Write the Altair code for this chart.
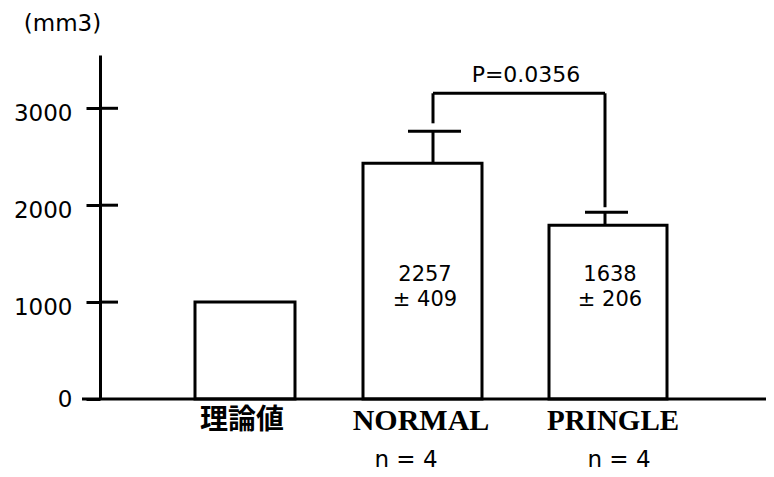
import altair as alt
import pandas as pd

# ---- data ----
categories = ["理論値", "NORMAL", "PRINGLE"]
bar_values = [1000, 2433, 1794]          # bar heights (mm3) as drawn
err_upper = [None, 2763, 1928]           # top of upper error bar
mean_text = ["", "2257", "1638"]
sd_text = ["", "± 409", "± 206"]
n_text = ["", "n = 4", "n = 4"]
y_ticks = [0, 1000, 2000, 3000]
y_unit = "(mm3)"
p_label = "P=0.0356"
bracket_pair = ["NORMAL", "PRINGLE"]
bracket_top = 3155
bracket_bottoms = [2845, 1979]

# ---- styles / layout ----
W, H = 666, 344
Y_MAX = 3550
LW = 3
bar_width = {"理論値": 100, "NORMAL": 119, "PRINGLE": 118}
bar_dx = {"理論値": 0, "NORMAL": -4, "PRINGLE": 0}
err_dx = {"NORMAL": 6.5, "PRINGLE": -3}
cap_dx = {"NORMAL": 8, "PRINGLE": -1.5}
cap_w = {"NORMAL": 53, "PRINGLE": 43}
num_dx = {"NORMAL": -1.5, "PRINGLE": 2}
label_dx = {"理論値": -3, "NORMAL": -5.5, "PRINGLE": 5}
label_font = {"理論値": ("Noto Sans CJK JP", 28), "NORMAL": ("Liberation Serif", 30),
              "PRINGLE": ("Liberation Serif", 29)}
n_dx = {"NORMAL": -20.5, "PRINGLE": 11}
SANS = "DejaVu Sans"

df = pd.DataFrame({"cat": categories, "value": bar_values, "upper": err_upper,
                   "mean_t": mean_text, "sd_t": sd_text, "n_t": n_text})

xscale = alt.Scale(domain=categories, paddingInner=0, paddingOuter=0.3347, align=0.4465)
x_enc = alt.X("cat:N", scale=xscale, axis=None)
yscale = alt.Scale(domain=[0, Y_MAX], nice=False, zero=True)
yaxis = alt.Axis(values=y_ticks, format="d", grid=False, title=None,
                 domainColor="black", domainWidth=LW, tickColor="black", tickWidth=LW,
                 tickSize=14, labelPadding=14, labelFont=SANS, labelFontSize=23,
                 labelColor="black", labelBaseline="middle",
                 labelOffset={"condition": {"test": "datum.value == 0", "value": 0}, "value": 5})

base = alt.Chart(df)
layers = []

# bars
for c in categories:
    layers.append(
        base.transform_filter(alt.datum.cat == c)
        .mark_bar(width=bar_width[c], xOffset=bar_dx[c], fill="white", stroke="black",
                  strokeWidth=LW)
        .encode(x=x_enc, y=alt.Y("value:Q", scale=yscale, axis=yaxis))
    )

# baseline
zero_df = pd.DataFrame({"value": [0]})
layers.append(
    alt.Chart(zero_df).mark_rule(color="black", strokeWidth=LW)
    .encode(y=alt.Y("value:Q", scale=yscale, axis=yaxis), x=alt.value(-18), x2=alt.value(W))
)

# right-hand half of the axis ticks
tick_df = pd.DataFrame({"value": y_ticks[1:]})
layers.append(
    alt.Chart(tick_df).mark_rule(color="black", strokeWidth=LW)
    .encode(y=alt.Y("value:Q", scale=yscale, axis=yaxis), x=alt.value(0), x2=alt.value(18))
)

# error bars
for c in bracket_pair:
    sub = base.transform_filter(alt.datum.cat == c)
    layers.append(
        sub.mark_rule(color="black", strokeWidth=LW, xOffset=err_dx[c])
        .encode(x=x_enc, y=alt.Y("value:Q", scale=yscale, axis=yaxis), y2="upper:Q")
    )
    layers.append(
        sub.mark_tick(color="black", thickness=LW, size=cap_w[c], xOffset=cap_dx[c],
                      orient="horizontal", opacity=1)
        .encode(x=x_enc, y=alt.Y("upper:Q", scale=yscale, axis=yaxis))
    )

# significance bracket
br_df = pd.DataFrame({"cat": [bracket_pair[0]], "cat2": [bracket_pair[1]], "top": [bracket_top]})
layers.append(
    alt.Chart(br_df).mark_rule(color="black", strokeWidth=LW, xOffset=err_dx[bracket_pair[0]],
                               x2Offset=err_dx[bracket_pair[1]])
    .encode(x=x_enc, x2="cat2:N", y=alt.Y("top:Q", scale=yscale, axis=yaxis))
)
for c, b in zip(bracket_pair, bracket_bottoms):
    vdf = pd.DataFrame({"cat": [c], "bottom": [b], "top": [bracket_top]})
    layers.append(
        alt.Chart(vdf).mark_rule(color="black", strokeWidth=LW, xOffset=err_dx[c])
        .encode(x=x_enc, y=alt.Y("bottom:Q", scale=yscale, axis=yaxis), y2="top:Q")
    )

# p value label
p_df = pd.DataFrame({"t": [p_label]})
layers.append(
    alt.Chart(p_df).mark_text(font=SANS, fontSize=22, color="black", baseline="middle")
    .encode(text="t:N", x=alt.value(426), y=alt.value(20))
)

# numbers inside bars and n labels
for c in bracket_pair:
    sub = base.transform_filter(alt.datum.cat == c)
    layers.append(
        sub.mark_text(font=SANS, fontSize=21, color="black", baseline="middle", dx=num_dx[c])
        .encode(x=x_enc, y=alt.value(220), text="mean_t:N")
    )
    layers.append(
        sub.mark_text(font=SANS, fontSize=21, color="black", baseline="middle", dx=num_dx[c])
        .encode(x=x_enc, y=alt.value(245), text="sd_t:N")
    )
    layers.append(
        sub.mark_text(font=SANS, fontSize=23, color="black", baseline="middle", dx=n_dx[c])
        .encode(x=x_enc, y=alt.value(405), text="n_t:N")
    )

# category labels
for c in categories:
    f, s = label_font[c]
    layers.append(
        base.transform_filter(alt.datum.cat == c)
        .mark_text(font=f, fontSize=s, fontWeight="bold", color="black", baseline="middle",
                   dx=label_dx[c])
        .encode(x=x_enc, y=alt.value(366), text="cat:N")
    )

# unit label
u_df = pd.DataFrame({"t": [y_unit]})
layers.append(
    alt.Chart(u_df).mark_text(font=SANS, fontSize=23, color="black", baseline="middle")
    .encode(text="t:N", x=alt.value(-37.5), y=alt.value(-31.5))
)

chart = alt.layer(*layers).properties(
    width=W, height=H,
    autosize=alt.AutoSizeParams(type="none"),
    padding={"left": 92, "top": 47, "right": 0, "bottom": 80},
    background="white",
).configure_view(stroke=None)

chart.save("out.html", embed_options={"renderer": "svg", "actions": False})
